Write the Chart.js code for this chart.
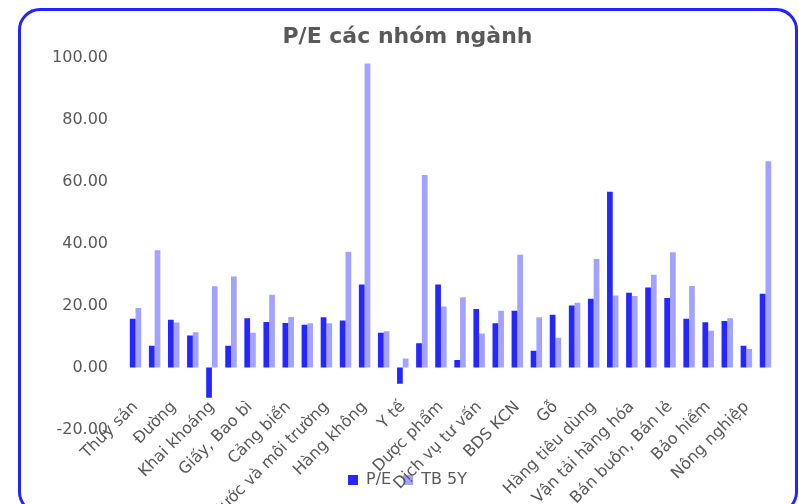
<!DOCTYPE html>
<html>
<head>
<meta charset="utf-8">
<script src="https://cdn.jsdelivr.net/npm/chart.js@4"></script>
<style>
  body { margin: 0; background: #fff; }
  #wrap { position: relative; width: 799px; height: 504px; overflow: hidden; }
  #frame { position: absolute; left: 18px; top: 8px; width: 774px; height: 500px;
           border: 3px solid #2323ff; border-radius: 22px; box-sizing: content-box; }
</style>
</head>
<body>
<div id="wrap">
  <canvas id="peChart" width="799" height="504"></canvas>
  <div id="frame"></div>
</div>
<script>
// nhom nganh (chi nhan chan hien tren truc)
const nganh = [
  'Thủy sản', '', 'Đường', '', 'Khai khoáng', '', 'Giấy, Bao bì', '',
  'Cảng biển', '', 'Nước và môi trường', '', 'Hàng không', '', 'Y tế', '',
  'Dược phẩm', '', 'Dịch vụ tư vấn', '', 'BDS KCN', '', 'Gỗ', '',
  'Hàng tiêu dùng', '', 'Vận tải hàng hóa', '', 'Bán buôn, Bán lẻ', '', 'Bảo hiểm', '',
  'Nông nghiệp', ''
];
const peHienTai = [
  15.7, 7.0, 15.4, 10.3, -9.7, 7.0, 15.9, 14.7, 14.4, 13.8, 16.2, 15.2,
  26.8, 11.2, -5.2, 7.8, 26.8, 2.4, 18.9, 14.3, 18.3, 5.4, 17.0, 20.0,
  22.2, 56.7, 24.1, 25.8, 22.4, 15.7, 14.6, 15.0, 7.0, 23.8
];
const peTB5Y = [
  19.2, 37.8, 14.5, 11.4, 26.2, 29.4, 11.2, 23.5, 16.3, 14.3, 14.3, 37.3,
  98.0, 11.7, 2.9, 62.1, 19.7, 22.7, 11.0, 18.3, 36.4, 16.2, 9.6, 20.9,
  35.0, 23.2, 23.1, 29.9, 37.2, 26.3, 11.9, 15.9, 6.0, 66.5
];
const yTicks = [-20, 0, 20, 40, 60, 80, 100];

const grey = '#595959';
const ff = '"DejaVu Sans", sans-serif';

const ctx = document.getElementById('peChart').getContext('2d');
new Chart(ctx, {
  type: 'bar',
  data: {
    labels: nganh,
    datasets: [{
      label: 'P/E',
      data: peHienTai,
      backgroundColor: '#2626ff',
      barPercentage: 1,
      categoryPercentage: 0.6
    }, {
      label: 'TB 5Y',
      data: peTB5Y,
      backgroundColor: '#a3a3ff',
      barPercentage: 1,
      categoryPercentage: 0.6
    }]
  },
  options: {
    responsive: false,
    animation: false,
    layout: { padding: { left: 40, right: 24, top: 0, bottom: 6 } },
    plugins: {
      title: {
        display: true,
        text: 'P/E các nhóm ngành',
        color: grey,
        font: { family: ff, size: 22, weight: 'bold' },
        padding: { top: 24, bottom: 7 }
      },
      legend: {
        position: 'bottom',
        title: { display: true, text: ' ', padding: { top: 0, bottom: 16 } },
        labels: {
          boxWidth: 10, boxHeight: 10, padding: 12,
          color: grey,
          font: { family: ff, size: 16 }
        }
      },
      tooltip: { enabled: false }
    },
    scales: {
      x: {
        position: { y: 0 },
        grid: { display: false, drawTicks: false },
        border: { display: false },
        afterFit: axis => { axis.paddingLeft = 0; axis.paddingRight = 0; },
        ticks: {
          autoSkip: false,
          minRotation: 45, maxRotation: 45,
          padding: 30,
          color: grey,
          font: { family: ff, size: 16 }
        }
      },
      y: {
        min: yTicks[0],
        max: yTicks[yTicks.length - 1],
        afterBuildTicks: axis => { axis.ticks = yTicks.map(v => ({ value: v })); },
        afterFit: axis => { axis.width = 86; },
        grid: { display: false, drawTicks: false },
        border: { display: false },
        ticks: {
          padding: 18,
          color: grey,
          font: { family: ff, size: 16 },
          callback: v => v.toFixed(2)
        }
      }
    }
  }
});
</script>
</body>
</html>
